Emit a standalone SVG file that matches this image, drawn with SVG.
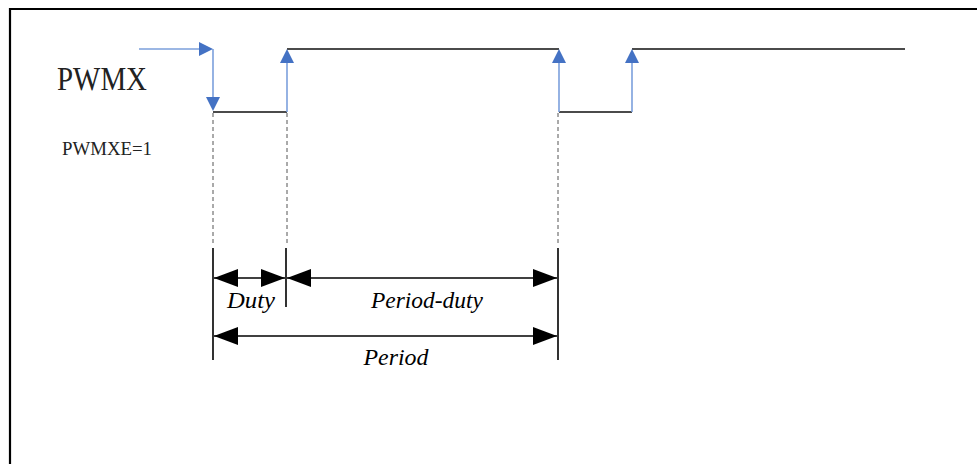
<svg xmlns="http://www.w3.org/2000/svg" width="977" height="464" viewBox="0 0 977 464">
<style>
.sig{stroke:#111;stroke-width:1.3;fill:none}
.blue{stroke:#7CA0DC;stroke-width:1.6;fill:none}
.head{fill:#4472C4}
.dash{stroke:#555;stroke-width:1;stroke-dasharray:4,3;fill:none}
.dim{stroke:#000;stroke-width:1.6;fill:none}
.lbl{font-family:"Liberation Serif",serif;font-style:italic;font-size:24px;fill:#000;text-anchor:middle}
.name{font-family:"Liberation Serif",serif;fill:#222}
</style>
<defs>
<marker id="dimEnd" markerWidth="24" markerHeight="18" refX="24" refY="9" orient="auto" markerUnits="userSpaceOnUse">
<path d="M0,0 L24,9 L0,18 Z" fill="#000"/>
</marker>
<marker id="dimStart" markerWidth="24" markerHeight="18" refX="0" refY="9" orient="auto" markerUnits="userSpaceOnUse">
<path d="M24,0 L0,9 L24,18 Z" fill="#000"/>
</marker>
</defs>
<rect width="977" height="464" fill="#fff"/>
<g id="frame">
<path d="M10,464 V9 H977" stroke="#000" stroke-width="2.2" fill="none"/>
</g>
<g id="labels">
<text class="name" x="57" y="90" font-size="33" textLength="90" lengthAdjust="spacingAndGlyphs">PWMX</text>
<text class="name" x="62" y="155" font-size="19" textLength="90" lengthAdjust="spacingAndGlyphs">PWMXE=1</text>
</g>
<g id="signal">
<path class="sig" d="M213,112 H287 M287,49 H559 M559,112 H632 M632,49 H905"/>
</g>
<g id="connectors">
<path class="blue" d="M139,49 H202 M213,49 V99 M287,112 V62 M559,112 V62 M632,112 V62"/>
<path class="head" d="M199,42 L213,49 L199,56 Z"/>
<path class="head" d="M206,97 L213,111 L220,97 Z"/>
<path class="head" d="M280,63 L287,49 L294,63 Z"/>
<path class="head" d="M552,63 L559,49 L566,63 Z"/>
<path class="head" d="M625,63 L632,49 L639,63 Z"/>
<path class="dash" d="M213,113 V246 M287,113 V246 M558,113 V246"/>
</g>
<g id="dimensions">
<path class="dim" d="M213,248 V360 M286,248 V307 M558,248 V360"/>
<line class="dim" x1="214" y1="278" x2="285" y2="278" marker-start="url(#dimStart)" marker-end="url(#dimEnd)"/>
<line class="dim" x1="287" y1="278" x2="557" y2="278" marker-start="url(#dimStart)" marker-end="url(#dimEnd)"/>
<line class="dim" x1="214" y1="336" x2="557" y2="336" marker-start="url(#dimStart)" marker-end="url(#dimEnd)"/>
<text class="lbl" x="251" y="308" textLength="48" lengthAdjust="spacingAndGlyphs">Duty</text>
<text class="lbl" x="427" y="308" textLength="112" lengthAdjust="spacingAndGlyphs">Period-duty</text>
<text class="lbl" x="396" y="365" textLength="65" lengthAdjust="spacingAndGlyphs">Period</text>
</g>
</svg>
